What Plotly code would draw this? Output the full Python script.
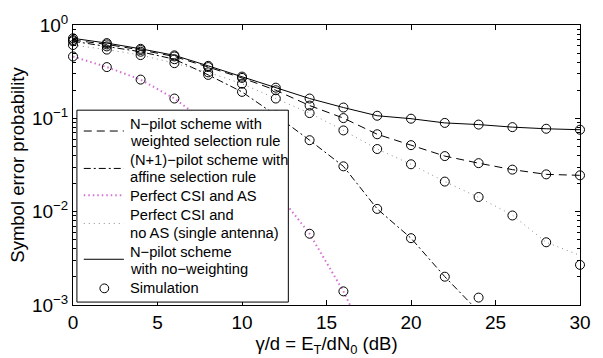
import plotly.graph_objects as go

snr = [0, 2, 4, 6, 8, 10, 12, 14, 16, 18, 20, 22, 24, 26, 28, 30]

# theory / analytical curves
weighted = [0.69, 0.62, 0.54, 0.46, 0.354, 0.271, 0.200, 0.137, 0.1006, 0.0675, 0.0516, 0.0394, 0.0331, 0.0282, 0.0251, 0.0245]
affine = [0.67, 0.59, 0.517, 0.43, 0.292, 0.192, 0.108, 0.0583, 0.0306, 0.0107, 0.0052, 0.00201, 0.00085, None, None, None]
perfect_as = [0.46, 0.354, 0.26, 0.163, 0.0875, 0.041, 0.0167, 0.0058, 0.0014, 0.00025, None, None, None, None, None, None]
no_as = [0.61, 0.545, 0.476, 0.39, 0.311, 0.235, 0.163, 0.1138, 0.0742, 0.0469, 0.0322, 0.0210, 0.0142, 0.0092, 0.0047, 0.0034]
no_weight = [0.72, 0.64, 0.556, 0.473, 0.365, 0.280, 0.213, 0.163, 0.1305, 0.1066, 0.0991, 0.0893, 0.0857, 0.0805, 0.0773, 0.0755]

# simulation points
sim_weighted = [0.69, 0.62, 0.54, 0.46, 0.354, 0.271, 0.200, 0.137, 0.1006, 0.0675, 0.0516, 0.0394, 0.0331, 0.0282, 0.0251, 0.0245]
sim_affine = [0.67, 0.59, 0.517, 0.43, 0.292, 0.192, 0.108, 0.0583, 0.0306, 0.0107, 0.0052, 0.00201, 0.0012, None, None, None]
sim_perfect_as = [0.46, 0.354, 0.26, 0.163, 0.0875, 0.041, 0.0167, 0.0058, 0.0014, None, None, None, None, None, None, None]
sim_no_as = [0.61, 0.545, 0.476, 0.39, 0.311, 0.235, 0.163, 0.1138, 0.0742, 0.0469, 0.0322, 0.0210, 0.01436, 0.0091, 0.0047, 0.00269]
sim_no_weight = [0.72, 0.64, 0.556, 0.473, 0.365, 0.280, 0.213, 0.163, 0.1305, 0.1066, 0.0991, 0.0893, 0.0857, 0.0805, 0.0773, 0.0755]

x_ticks = [0, 5, 10, 15, 20, 25, 30]
y_tickvals = [1, 0.1, 0.01, 0.001]
y_ticktext = ["10<sup>0</sup>", "10<sup>−1</sup>", "10<sup>−2</sup>", "10<sup>−3</sup>"]
y_minor = [m * d for d in (0.001, 0.01, 0.1) for m in range(2, 10)]

legend_labels = [
    ["N−pilot scheme with", "weighted selection rule"],
    ["(N+1)−pilot scheme with", "affine selection rule"],
    ["Perfect CSI and AS"],
    ["Perfect CSI and", "no AS (single antenna)"],
    ["N−pilot scheme", "with no−weighting"],
    ["Simulation"],
]

FONT = "Liberation Sans, Arial, Helvetica, sans-serif"

W, H = 603, 358
ML, MR, MT, MB = 73, 12, 20, 52
PW, PH = W - ML - MR, H - MT - MB


def px(x):
    return (x - ML) / PW


def py(y):
    return 1 - (y - MT) / PH


fig = go.Figure()

styles = [
    dict(color="black", width=1, dash="8px,5px"),
    dict(color="black", width=1, dash="7px,3px,2px,3px"),
    dict(color="#d470d4", width=2, dash="1.5px,3px"),
    dict(color="#8c8c8c", width=1, dash="1px,4px"),
    dict(color="black", width=1),
]
curves = [weighted, affine, perfect_as, no_as, no_weight]
for vals, ln, lab in zip(curves, styles, legend_labels):
    fig.add_trace(go.Scatter(x=snr, y=vals, mode="lines", name=" ".join(lab), line=ln,
                             connectgaps=False, showlegend=False))

sims = [sim_weighted, sim_affine, sim_perfect_as, sim_no_as, sim_no_weight]
for vals in sims:
    fig.add_trace(go.Scatter(
        x=snr, y=vals, mode="markers", name="Simulation", showlegend=False, cliponaxis=False,
        marker=dict(symbol="circle-open", size=9, color="black", line=dict(width=1, color="black")),
    ))

# ---- hand-built legend box (layout only) ----
shapes = [dict(type="rect", xref="paper", yref="paper", x0=px(77), x1=px(293), y0=py(303), y1=py(107),
               fillcolor="white", line=dict(color="black", width=1), layer="above")]
sample_y = [128.3, 166.5, 194, 222.7, 259.3]
for sy, ln in zip(sample_y, styles):
    shapes.append(dict(type="line", xref="paper", yref="paper", x0=px(84), x1=px(125), y0=py(sy), y1=py(sy),
                       line=ln, layer="above"))
cx, cy, r = 105, 289, 4.5
shapes.append(dict(type="circle", xref="paper", yref="paper", x0=px(cx - r), x1=px(cx + r),
                   y0=py(cy + r), y1=py(cy - r), line=dict(color="black", width=1), layer="above"))

text_y = [[121.5, 138.5], [158.3, 175.5], [195], [214.5, 232.5], [251.5, 269.5], [288.5]]
annotations = []
for labs, ys in zip(legend_labels, text_y):
    for t, yy in zip(labs, ys):
        annotations.append(dict(text=t, xref="paper", yref="paper", x=px(129), y=py(yy),
                                xanchor="left", yanchor="middle", showarrow=False,
                                font=dict(family=FONT, size=14.7, color="black")))

fig.update_layout(
    width=W, height=H,
    margin=dict(l=ML, r=MR, t=MT, b=MB),
    paper_bgcolor="white", plot_bgcolor="white",
    font=dict(family=FONT, size=18, color="black"),
    showlegend=False,
    shapes=shapes,
    annotations=annotations,
)
fig.update_xaxes(
    range=[0, 30], tickvals=x_ticks, ticks="inside", ticklen=5, tickcolor="black",
    showline=True, linecolor="black", linewidth=1, mirror="ticks", showgrid=False, zeroline=False,
    tickfont=dict(size=19),
    title=dict(text="γ/d = E<sub>T</sub>/dN<sub>0</sub> (dB)", font=dict(size=18.5), standoff=0),
)
fig.update_yaxes(
    type="log", range=[-3, 0], tickvals=y_tickvals, ticktext=y_ticktext,
    ticks="inside", ticklen=5, tickcolor="black",
    showline=True, linecolor="black", linewidth=1, mirror="ticks", showgrid=False, zeroline=False,
    tickfont=dict(size=19),
    minor=dict(tickvals=y_minor, ticks="inside", ticklen=3, tickcolor="black", showgrid=False),
    title=dict(text="Symbol error probability", font=dict(size=18.5), standoff=2),
)

fig.write_html("out.html")
